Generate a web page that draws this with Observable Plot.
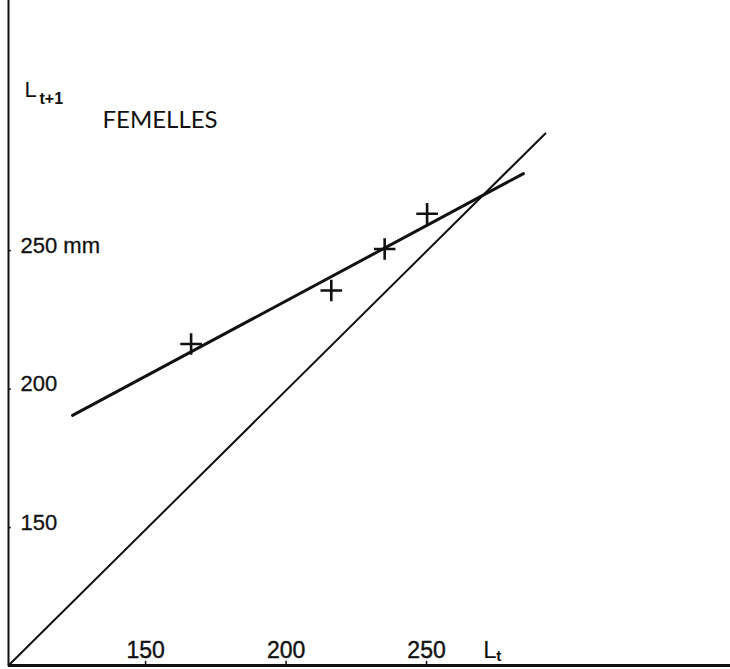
<!DOCTYPE html>
<html>
<head>
<meta charset="utf-8">
<script src="https://cdn.jsdelivr.net/npm/d3@7"></script>
<script src="https://cdn.jsdelivr.net/npm/@observablehq/plot@0.6"></script>
<style>
  html, body { margin: 0; padding: 0; background: #fff; }
  svg { display: block; }
</style>
</head>
<body>
<div id="chart"></div>
<script>
// Observed points (L_t, L_t+1), mm
const lt   = [166.2, 216.1, 235.1, 250.2];
const lt1  = [216.3, 235.6, 250.6, 263.3];
// Fitted Walford line end points
const fitX = [124.0, 284.5];
const fitY = [190.5, 277.8];
// Bisector L_t+1 = L_t
const bisX = [101.2, 292.3];
const bisY = [100.2, 292.3];
// Axis ticks
const xTicks = [150, 200, 250];
const yTicks = [150, 200, 250];
const yTickLabels = ["150", "200", "250 mm"];
const xDomain = [101.2, 358.2];
const yDomain = [100.2, 340.3];

const points = lt.map((x, i) => ({x, y: lt1[i]}));
const fit = fitX.map((x, i) => ({x, y: fitY[i]}));
const bis = bisX.map((x, i) => ({x, y: bisY[i]}));

const font = "'Liberation Sans', Arial, sans-serif";
const ink = "#111";

const chart = Plot.plot({
  width: 730,
  height: 669,
  marginLeft: 8,
  marginRight: 0,
  marginTop: 0,
  marginBottom: 4,
  x: {type: "linear", domain: xDomain, axis: null},
  y: {type: "linear", domain: yDomain, axis: null},
  style: {background: "#fff", color: ink},
  marks: [
    Plot.ruleX([xDomain[0]], {stroke: ink, strokeWidth: 2}),
    Plot.ruleY([yDomain[0]], {stroke: ink, strokeWidth: 3}),
    Plot.ruleX(xTicks, {x: d => d, y1: yDomain[0], y2: yDomain[0] + 1.5, stroke: ink, strokeWidth: 1.5}),
    Plot.ruleY(yTicks, {y: d => d, x1: xDomain[0], x2: xDomain[0] + 1.0, stroke: ink, strokeWidth: 1.5}),
    Plot.line(bis, {x: "x", y: "y", stroke: ink, strokeWidth: 2}),
    Plot.line(fit, {x: "x", y: "y", stroke: ink, strokeWidth: 3}),
    Plot.dot(points, {x: "x", y: "y", symbol: "plus", r: 7, stroke: ink, strokeWidth: 2.6}),
    Plot.text(xTicks, {x: d => d, y: yDomain[0], dy: -15, text: d => String(d),
      fontSize: 23, fontFamily: font, fill: ink, stroke: ink, strokeWidth: 0.4}),
    Plot.text(yTicks, {x: xDomain[0], y: d => d, dx: 12, dy: -5, textAnchor: "start",
      text: (d, i) => yTickLabels[i], fontSize: 22, fontFamily: font, fill: ink, stroke: ink, strokeWidth: 0.3}),
    Plot.text(["L"], {frameAnchor: "top-left", dx: 16, dy: 81, lineAnchor: "top", textAnchor: "start",
      fontSize: 22, fontFamily: font, fill: ink}),
    Plot.text(["t+1"], {frameAnchor: "top-left", dx: 31, dy: 92, lineAnchor: "top", textAnchor: "start",
      fontSize: 16, fontWeight: "bold", fontFamily: font, fill: ink}),
    Plot.text(["FEMELLES"], {frameAnchor: "top-left", dx: 94, dy: 110, lineAnchor: "top", textAnchor: "start",
      fontSize: 24, fontFamily: "Lato, 'Noto Sans', sans-serif", fill: ink}),
    Plot.text(["L"], {x: 270.2, y: yDomain[0], dx: 0, dy: -15, textAnchor: "start",
      fontSize: 24, fontFamily: font, fill: ink}),
    Plot.text(["t"], {x: 270.2, y: yDomain[0], dx: 13, dy: -9, textAnchor: "start",
      fontSize: 15, fontWeight: "bold", fontFamily: font, fill: ink})
  ]
});
document.getElementById("chart").append(chart);
</script>
</body>
</html>
